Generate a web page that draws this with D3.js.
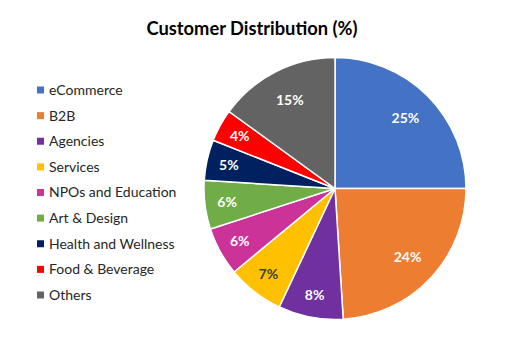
<!DOCTYPE html>
<html><head><meta charset="utf-8">
<script src="https://cdn.jsdelivr.net/npm/d3@7"></script>
<style>body{margin:0;background:#fff}svg{display:block}</style>
</head><body>
<script>
const categories = ["eCommerce","B2B","Agencies","Services","NPOs and Education","Art & Design","Health and Wellness","Food & Beverage","Others"];
const values = [25,24,8,7,6,6,5,4,15];
const colors = ["#4472C4","#ED7D31","#7030A0","#FFC000","#CC3399","#70AD47","#002060","#FF0000","#636363"];
const labelColors = ["#fff","#fff","#fff","#404040","#fff","#fff","#fff","#fff","#fff"];

const W=522,H=349;
const svg=d3.select("body").append("svg").attr("width",W).attr("height",H);
const font="Lato, Calibri, 'Open Sans', sans-serif";

svg.append("text").attr("x",252).attr("y",35).attr("text-anchor","middle")
  .attr("font-family",font).attr("font-weight","bold").attr("font-size",18.3).attr("fill","#000")
  .text("Customer Distribution (%)");

const cx=335, cy=188.5, r=131;
const pie=d3.pie().sort(null).value(d=>d)(values);
const arc=d3.arc().innerRadius(0).outerRadius(r);
const g=svg.append("g").attr("transform",`translate(${cx},${cy})`);
g.selectAll("path").data(pie).join("path").attr("d",arc)
  .attr("fill",(d,i)=>colors[i]).attr("stroke","#fff").attr("stroke-width",1.5);

g.selectAll("text").data(pie).join("text")
  .attr("transform",d=>{
    const k = d.data>=15 ? 0.76 : 0.83;
    const a=(d.startAngle+d.endAngle)/2;
    return `translate(${Math.sin(a)*r*k},${-Math.cos(a)*r*k})`;
  })
  .attr("text-anchor","middle").attr("dy","0.35em")
  .attr("font-family",font).attr("font-weight","bold").attr("font-size",14)
  .attr("fill",(d,i)=>labelColors[i])
  .text(d=>d.data+"%");

const y=d3.scalePoint().domain(categories).range([90,295]);
const lg=svg.append("g");
const rows=lg.selectAll("g").data(categories).join("g").attr("transform",d=>`translate(37,${y(d)})`);
rows.append("rect").attr("x",0).attr("y",-3.5).attr("width",7).attr("height",7).attr("fill",(d,i)=>colors[i]);
rows.append("text").attr("x",12).attr("dy","0.35em").attr("font-family",font).attr("font-size",14).attr("fill","#262626").text(d=>d);
</script>
</body></html>
